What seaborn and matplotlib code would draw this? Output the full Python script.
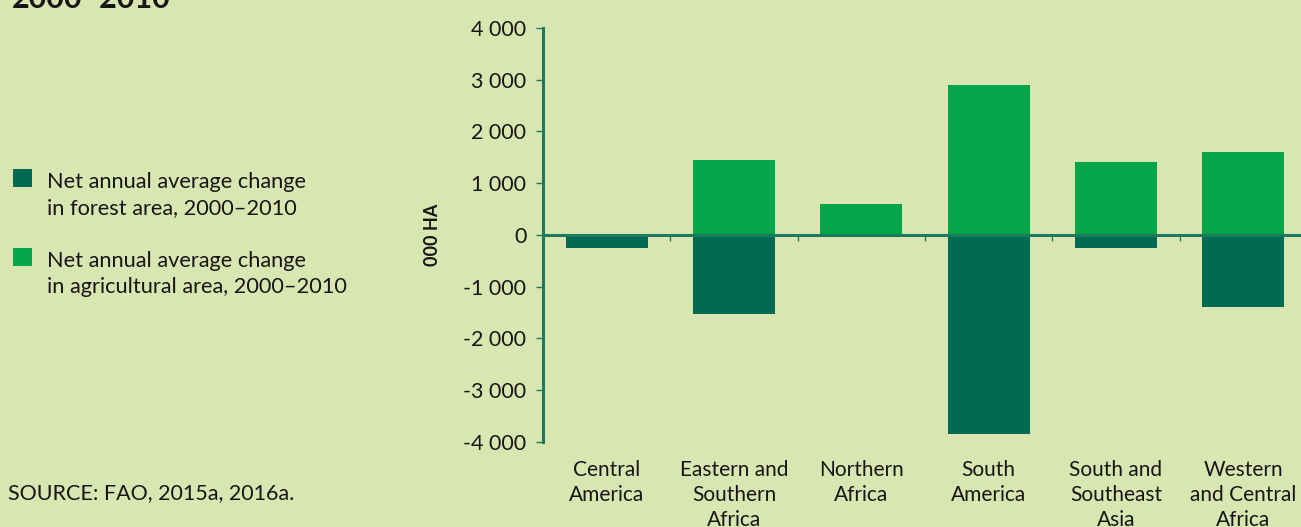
import pandas as pd
import seaborn as sns
import matplotlib.pyplot as plt
from matplotlib.patches import Rectangle
from matplotlib.ticker import FuncFormatter

regions = ['Central\nAmerica', 'Eastern and\nSouthern\nAfrica', 'Northern\nAfrica',
           'South\nAmerica', 'South and\nSoutheast\nAsia', 'Western\nand Central\nAfrica']
forest_change = [-250, -1540, -50, -3860, -250, -1390]
agri_change = [0, 1450, 600, 2900, 1410, 1600]
series_names = ['Net annual average change\nin forest area, 2000\u20132010',
                'Net annual average change\nin agricultural area, 2000\u20132010']
y_ticks = [-4000, -3000, -2000, -1000, 0, 1000, 2000, 3000, 4000]

BG = '#DAE6B2'
DARK = '#006B52'
BRIGHT = '#02A548'
AXIS = '#1E7A5C'
TXT = '#161616'

df = pd.DataFrame({
    'region': regions * 2,
    'series': [series_names[0]] * len(regions) + [series_names[1]] * len(regions),
    'value': forest_change + agri_change,
})

sns.set_theme(style='white')
plt.rcParams['font.family'] = ['Lato', 'DejaVu Sans']
plt.rcParams['text.color'] = TXT

fig = plt.figure(figsize=(13.01, 5.27), dpi=100, facecolor=BG)
ax = fig.add_axes([543 / 1301, 1 - 441.7 / 527, 764 / 1301, 413.7 / 527])
ax.set_facecolor(BG)

sns.barplot(data=df, x='region', y='value', hue='series', dodge=False,
            palette={series_names[0]: DARK, series_names[1]: BRIGHT},
            width=0.645, saturation=1, legend=False, linewidth=0, ax=ax)

ax.set_xlim(-0.5, len(regions) - 0.5)
ax.set_ylim(-4000, 4000)
ax.set_yticks(y_ticks)
ax.yaxis.set_major_formatter(FuncFormatter(lambda v, p: f'{int(v):,}'.replace(',', ' ')))

for s in ['top', 'right']:
    ax.spines[s].set_visible(False)
ax.spines['bottom'].set_position(('data', 0))
ax.spines['bottom'].set_color(AXIS)
ax.spines['bottom'].set_linewidth(2.2)
ax.spines['left'].set_color(AXIS)
ax.spines['left'].set_linewidth(2.2)

ax.tick_params(axis='y', which='major', length=5, width=1, color=AXIS,
               labelsize=15.5, labelcolor=TXT, pad=7, left=True)
# category names sit below the plot, boundary ticks on the zero line
ax.set_xticks(range(len(regions)))
ax.set_xticks([i + 0.5 for i in range(len(regions) - 1)], minor=True)
ax.tick_params(axis='x', which='major', length=0, labelsize=15,
               labelcolor=TXT, pad=162)
ax.tick_params(axis='x', which='minor', length=4, width=1, color=AXIS,
               direction='out', bottom=True)
for lab in ax.get_xticklabels():
    lab.set_verticalalignment('top')
    lab.set_linespacing(1.32)

ax.set_xlabel('')
ax.set_ylabel('000 HA', fontsize=13, fontweight='bold', color=TXT, labelpad=16)

# legend drawn by hand so each square lines up with the first text line
W, H = 1301, 527
for i, (name, col) in enumerate(zip(series_names, [DARK, BRIGHT])):
    top = 169 + i * 79
    fig.patches.append(Rectangle((13 / W, 1 - (top + 18) / H), 19 / W, 18 / H,
                                 transform=fig.transFigure, facecolor=col,
                                 edgecolor='none'))
    fig.text(47 / W, 1 - (top + 3) / H, name, fontsize=15.7, va='top', ha='left',
             linespacing=1.36)

fig.text(12 / W, 1 - 8 / H, '2000\u20132010', fontsize=22, fontweight='bold',
         va='baseline', ha='left')
fig.text(8 / W, 1 - 493 / H, 'SOURCE: FAO, 2015a, 2016a.', fontsize=15.5,
         va='center', ha='left')

fig.savefig('out.png', dpi=100, facecolor=BG)
